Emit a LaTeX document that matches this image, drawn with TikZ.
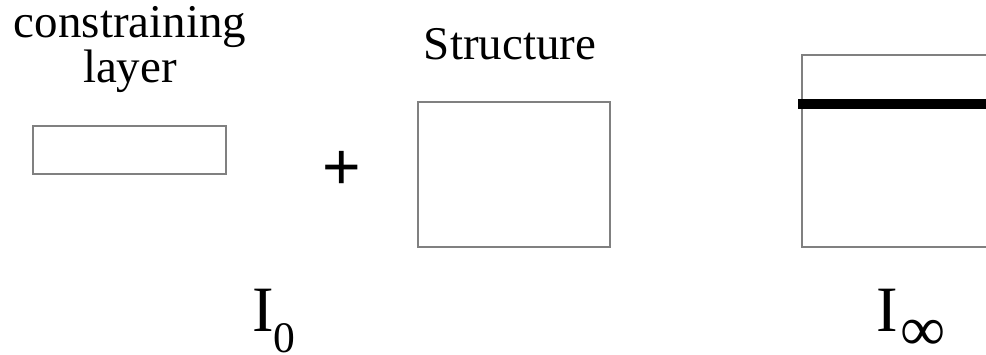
\documentclass[tikz,border=0pt]{standalone}
\usepackage{fontspec}
\setmainfont{Liberation Serif}
\newfontfamily\plusfont{Liberation Sans}
\usetikzlibrary{positioning}

\begin{document}
\begin{tikzpicture}[
  panel/.style={draw=black!50, line width=1pt, inner sep=0pt},
  caption/.style={font=\fontsize{33.4}{27.7}\selectfont, align=center, inner sep=0pt},
  symb/.style={font=\fontsize{46}{50}\selectfont, inner sep=0pt, anchor=base west},
]
\useasboundingbox (0,0) rectangle (24.65,8.85);
\clip (0,0) rectangle (24.65,8.85);

% --- constraining layer (left) ---
\node[panel, minimum width=4.825cm, minimum height=1.2cm] (layer) at (3.2375,5.1) {};
\node[caption, anchor=base] (layerlbl) at (3.25,6.8) {constraining\\layer};

% --- plus ---
\node[font=\plusfont\fontsize{47}{50}\selectfont, inner sep=0pt] (plus) at (8.55,4.6) {+};

% --- structure (middle) ---
\node[panel, minimum width=4.8cm, minimum height=3.625cm] (struct) at (12.85,4.4875) {};
\node[caption, anchor=base] (structlbl) at (12.75,7.375) {Structure};

% --- bonded structure (right, cut off) ---
\node[panel, minimum width=6cm, minimum height=4.8cm] (bonded) at (23.05,5.075) {};
\coordinate (bond) at (19.95,6.25);
\draw[line width=0.25cm] (bond) -- ++(5.5,0);

% --- labels ---
\node[symb] (izero) at (6.3,0.575) {I\raisebox{-15pt}{\fontsize{31}{31}\selectfont 0}};
\node[symb] (iinf) at (21.9,0.575) {I\kern2pt\raisebox{-14pt}{\fontsize{45}{45}\selectfont ∞}};

\end{tikzpicture}
\end{document}
